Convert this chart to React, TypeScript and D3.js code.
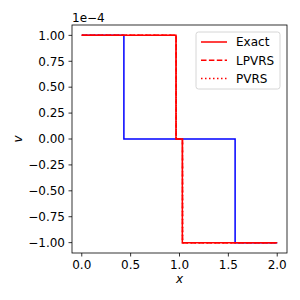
import * as d3 from 'd3'

// step profiles: value holds from x[i] until x[i+1]
const blueX = [0, 0.431, 1.569, 2.0]
const blueV = [1, 0, -1, -1]
const exactX = [0, 0.964, 1.029, 2.0]
const exactV = [1, 0, -1, -1]
const lpvrsX = [0, 0.966, 1.031, 2.0]
const lpvrsV = [1, 0, -1, -1]
const pvrsX = [0, 0.966, 1.031, 2.0]
const pvrsV = [1, 0, -1, -1]

const xTicks = [0, 0.5, 1.0, 1.5, 2.0]
const yTicks = [1, 0.75, 0.5, 0.25, 0, -0.25, -0.5, -0.75, -1]
const legendNames = ['Exact', 'LPVRS', 'PVRS']

const font = 'DejaVu Sans, sans-serif'
const fs = 12

const App = () => {
  const left = 72, right = 287, top = 25, bottom = 253
  const x = d3.scaleLinear().domain([-0.1, 2.1]).range([left, right])
  const y = d3.scaleLinear().domain([-1.1, 1.1]).range([bottom, top])

  const line = d3.line<[number, number]>()
    .x(d => x(d[0]))
    .y(d => y(d[1]))
    .curve(d3.curveStepAfter)

  const pts = (xs: number[], vs: number[]) => xs.map((v, i) => [v, vs[i]] as [number, number])

  const series = [
    { d: line(pts(exactX, exactV)), dash: undefined },
    { d: line(pts(lpvrsX, lpvrsV)), dash: '5.5,2.4' },
    { d: line(pts(pvrsX, pvrsV)), dash: '1.5,2.5' },
  ]

  const fmtY = (v: number) => d3.format('.2f')(v).replace('-', '\u2212')

  return (
    <svg width={300} height={300} style={{ position: 'absolute', left: 0, top: 0 }}>
      <rect width={300} height={300} fill="white" />
      <path d={line(pts(blueX, blueV)) ?? ''} fill="none" stroke="blue" strokeWidth={1.5} />
      {series.map((s, i) => (
        <path key={i} d={s.d ?? ''} fill="none" stroke="red" strokeWidth={1.5} strokeDasharray={s.dash} />
      ))}
      <rect x={left} y={top} width={right - left} height={bottom - top} fill="none" stroke="black" strokeWidth={0.8} />
      {xTicks.map(t => (
        <g key={t}>
          <line x1={x(t)} x2={x(t)} y1={bottom} y2={bottom + 3.5} stroke="black" strokeWidth={0.8} />
          <text x={x(t)} y={bottom + 16} textAnchor="middle" fontSize={fs} fontFamily={font}>{t.toFixed(1)}</text>
        </g>
      ))}
      {yTicks.map(t => (
        <g key={t}>
          <line x1={left - 3.5} x2={left} y1={y(t)} y2={y(t)} stroke="black" strokeWidth={0.8} />
          <text x={left - 7} y={y(t) + 4.3} textAnchor="end" fontSize={fs} fontFamily={font}>{fmtY(t)}</text>
        </g>
      ))}
      <text x={left} y={22} fontSize={fs} fontFamily={font}>1e{'\u2212'}4</text>
      <text x={(left + right) / 2} y={283} textAnchor="middle" fontSize={fs} fontStyle="italic" fontFamily={font}>x</text>
      <text transform={`translate(22,${(top + bottom) / 2}) rotate(-90)`} textAnchor="middle" fontSize={fs} fontStyle="italic" fontFamily={font}>v</text>
      <rect x={196} y={32} width={84} height={57} rx={2.5} fill="white" fillOpacity={0.8} stroke="#cccccc" strokeWidth={0.8} />
      {legendNames.map((n, i) => (
        <g key={n}>
          <line x1={201} x2={227} y1={42 + i * 18.2} y2={42 + i * 18.2} stroke="red" strokeWidth={1.5} strokeDasharray={series[i].dash} />
          <text x={236} y={46.3 + i * 18.2} fontSize={fs} fontFamily={font}>{n}</text>
        </g>
      ))}
    </svg>
  )
}

export default App
